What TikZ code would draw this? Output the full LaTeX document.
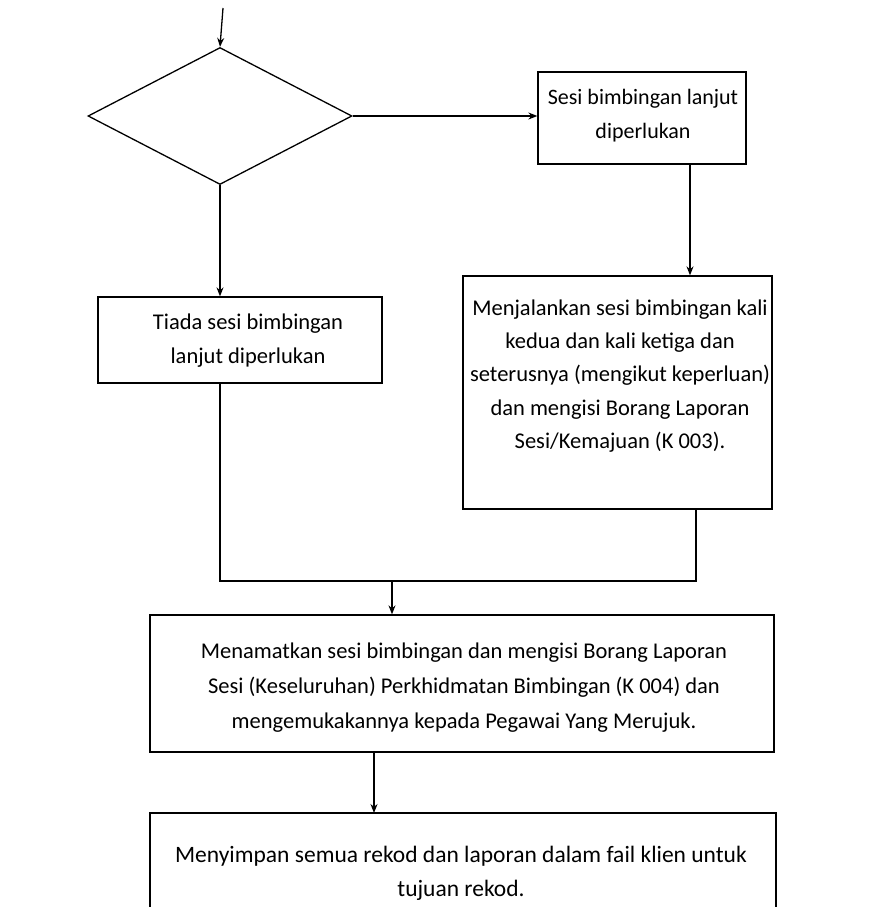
\documentclass[tikz,border=0pt]{standalone}
\usepackage{fontspec}
\setmainfont{Carlito}
\usetikzlibrary{arrows.meta,shapes.geometric,calc}
\tikzset{
  conn/.style={line width=1.3pt, draw=black},
  arr/.style={conn, -{Stealth[length=9pt,width=7pt]}},
  boxshape/.style={draw=black, line width=1.3pt, inner sep=0pt},
  txt/.style={align=center, font=\fontsize{22.5}{34}\selectfont, inner sep=0pt},
}
\begin{document}
\begin{tikzpicture}[x=1pt,y=-1pt]
\useasboundingbox (0,0) rectangle (891,907);
% start
\coordinate (start) at (223,8);
% diamond
\node[boxshape, diamond, minimum width=264pt, minimum height=137pt] (dia) at (220,116) {};
% box 1
\node[boxshape, rectangle, minimum width=208pt, minimum height=92pt] (b1) at (642,118) {};
\node[txt, font=\fontsize{22}{34}\selectfont] (t1) at (643,116) {Sesi bimbingan lanjut\\diperlukan};
% left box
\node[boxshape, rectangle, minimum width=284pt, minimum height=86pt] (lb) at (240,340) {};
\node[txt] (tl) at (248,341) {Tiada sesi bimbingan\\lanjut diperlukan};
% big box
\node[boxshape, rectangle, minimum width=309pt, minimum height=233pt] (bb) at (617.5,392.5) {};
\node[txt, font=\fontsize{22.5}{33.3}\selectfont] (tb) at (620,376) {Menjalankan sesi bimbingan kali\\kedua dan kali ketiga dan\\seterusnya (mengikut keperluan)\\dan mengisi Borang Laporan\\Sesi/Kemajuan (K 003).};
% box 3
\node[boxshape, rectangle, minimum width=624pt, minimum height=137pt] (b3) at (462,683.5) {};
\node[txt, font=\fontsize{22.5}{35}\selectfont] (t3) at (464,688) {Menamatkan sesi bimbingan dan mengisi Borang Laporan\\Sesi (Keseluruhan) Perkhidmatan Bimbingan (K 004) dan\\mengemukakannya kepada Pegawai Yang Merujuk.};
% box 4 (open at bottom)
\coordinate (b4nw) at (150,813);
\coordinate (b4ne) at (776,813);
\draw[conn] (150,912) -- (b4nw) -- (b4ne) -- (776,912);
\node[txt, font=\fontsize{23.5}{34}\selectfont] (t4) at (461,873) {Menyimpan semua rekod dan laporan dalam fail klien untuk\\tujuan rekod.};
% connectors
\draw[arr] (start) -- (dia.north);
\draw[arr] (dia.east) -- (dia.east -| b1.west);
\coordinate (c1) at (690,0);
\draw[arr] (c1 |- b1.south) -- (c1 |- bb.north);
\draw[arr] (dia.south) -- (dia.south |- lb.north);
\coordinate (jl) at (220,581);
\coordinate (jr) at (696,581);
\draw[conn] (jl |- lb.south) -- (jl) -- (jr) -- (jr |- bb.south);
\coordinate (c3) at (392,581);
\draw[arr] (c3) -- (c3 |- b3.north);
\coordinate (c4) at (374,0);
\draw[arr] (c4 |- b3.south) -- (c4 |- b4nw);
\end{tikzpicture}
\end{document}
